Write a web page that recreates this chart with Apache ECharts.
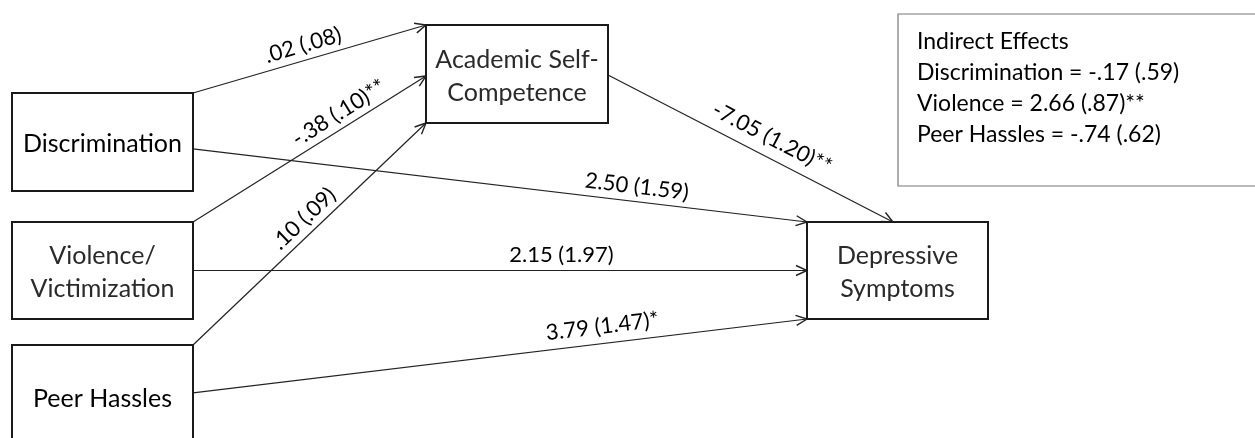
<!DOCTYPE html>
<html>
<head>
<meta charset="utf-8">
<script src="https://cdn.jsdelivr.net/npm/echarts@6/dist/echarts.min.js"></script>
<style>
  html, body { margin: 0; padding: 0; background: #fff; }
  #main { width: 1255px; height: 438px; }
</style>
</head>
<body>
<div id="main"></div>
<script>
// --- data ---
const nodeNames = ['Discrimination', 'Violence/\nVictimization', 'Peer Hassles', 'Academic Self-\nCompetence', 'Depressive\nSymptoms'];
const pathFrom = [0, 1, 2, 0, 1, 2, 3];
const pathTo = [3, 3, 3, 4, 4, 4, 4];
const pathCoef = ['.02', '-.38', '.10', '2.50', '2.15', '3.79', '-7.05'];
const pathSE = ['.08', '.10', '.09', '1.59', '1.97', '1.47', '1.20'];
const pathSig = ['', '**', '', '', '', '*', '**'];
const indirectTitle = 'Indirect Effects';
const indirectNames = ['Discrimination', 'Violence', 'Peer Hassles'];
const indirectCoef = ['-.17', '2.66', '-.74'];
const indirectSE = ['.59', '.87', '.62'];
const indirectSig = ['', '**', ''];

// --- layout (axis units = pixels) ---
const boxes = [[12, 93, 193, 191], [12, 222, 193, 319], [12, 345, 193, 449], [426, 25, 608, 123], [807, 222, 988, 319]];
const boxTextColor = ['#000', '#2a2a2a', '#000', '#2a2a2a', '#2a2a2a'];
const pathStart = [[1, 0], [1, 0], [1, 0], [1, 0.57], [1, 0.5], [1, 0.46], [1, 0.51]];
const pathEnd = [[0, 0], [0, 0.52], [0, 1], [0, 0], [0, 0.5], [0, 1], [0.475, 0]];
const labelT = [0.49, 0.66, 0.52, 0.72, 0.60, 0.67, 0.545];
const labelOff = [15, 15, 15, 15, 16, 17, 19];
const indirectBox = [898, 14, 1262, 186];

const FONT = 'Lato, "Open Sans", sans-serif';

function anchor(node, frac, api) {
  const b = boxes[node];
  return api.coord([b[0] + (b[2] - b[0]) * frac[0], b[1] + (b[3] - b[1]) * frac[1]]);
}

function renderBox(params, api) {
  const i = params.dataIndex;
  const b = boxes[i];
  const p0 = api.coord([b[0], b[1]]);
  const p1 = api.coord([b[2], b[3]]);
  return {
    type: 'group',
    children: [
      { type: 'rect', shape: { x: p0[0], y: p0[1], width: p1[0] - p0[0], height: p1[1] - p0[1] },
        style: { fill: '#fff', stroke: '#1a1a1a', lineWidth: 2 } },
      { type: 'text', style: { text: nodeNames[i], x: (p0[0] + p1[0]) / 2, y: (p0[1] + p1[1]) / 2 + 2,
        font: '25px ' + FONT, fill: boxTextColor[i], align: 'center', verticalAlign: 'middle', lineHeight: 33 } }
    ]
  };
}

function renderPath(params, api) {
  const i = params.dataIndex;
  const a = anchor(pathFrom[i], pathStart[i], api);
  const b = anchor(pathTo[i], pathEnd[i], api);
  const dx = b[0] - a[0], dy = b[1] - a[1];
  const len = Math.hypot(dx, dy);
  const ux = dx / len, uy = dy / len;
  const ah = 11, aw = 5;
  const w1 = [b[0] - ux * ah - uy * aw, b[1] - uy * ah + ux * aw];
  const w2 = [b[0] - ux * ah + uy * aw, b[1] - uy * ah - ux * aw];
  const nx = uy, ny = -ux;
  const cx = a[0] + dx * labelT[i] + nx * labelOff[i];
  const cy = a[1] + dy * labelT[i] + ny * labelOff[i];
  return {
    type: 'group',
    children: [
      { type: 'line', shape: { x1: a[0], y1: a[1], x2: b[0], y2: b[1] }, style: { stroke: '#222', lineWidth: 1.2 } },
      { type: 'polyline', shape: { points: [w1, b, w2] }, style: { stroke: '#222', lineWidth: 1.4, fill: null } },
      { type: 'text', x: cx, y: cy, rotation: -Math.atan2(dy, dx),
        style: { text: pathCoef[i] + ' (' + pathSE[i] + ')' + pathSig[i], font: '22px ' + FONT, fill: '#000',
          align: 'center', verticalAlign: 'middle' } }
    ]
  };
}

function renderIndirect(params, api) {
  const p0 = api.coord([indirectBox[0], indirectBox[1]]);
  const p1 = api.coord([indirectBox[2], indirectBox[3]]);
  const lines = [indirectTitle].concat(indirectNames.map(function (n, k) {
    return n + ' = ' + indirectCoef[k] + ' (' + indirectSE[k] + ')' + indirectSig[k];
  }));
  return {
    type: 'group',
    children: [
      { type: 'rect', shape: { x: p0[0], y: p0[1], width: p1[0] - p0[0], height: p1[1] - p0[1] },
        style: { fill: '#fff', stroke: '#777', lineWidth: 1.2 } },
      { type: 'text', style: { text: lines.join('\n'), x: p0[0] + 19, y: p0[1] + 12,
        font: '23px ' + FONT, fill: '#000', align: 'left', verticalAlign: 'top', lineHeight: 31 } }
    ]
  };
}

const chart = echarts.init(document.getElementById('main'));
chart.setOption({
  animation: false,
  backgroundColor: '#fff',
  grid: { left: 0, right: 0, top: 0, bottom: 0 },
  xAxis: { type: 'value', min: 0, max: 1255, show: false },
  yAxis: { type: 'value', min: 0, max: 438, inverse: true, show: false },
  series: [
    { type: 'custom', coordinateSystem: 'cartesian2d', silent: true, clip: false,
      renderItem: renderPath, data: pathFrom.map(function (f, i) { return [i, i]; }) },
    { type: 'custom', coordinateSystem: 'cartesian2d', silent: true, clip: false,
      renderItem: renderBox, data: nodeNames.map(function (n, i) { return [i, i]; }) },
    { type: 'custom', coordinateSystem: 'cartesian2d', silent: true, clip: false,
      renderItem: renderIndirect, data: [[0, 0]] }
  ]
});
</script>
</body>
</html>
